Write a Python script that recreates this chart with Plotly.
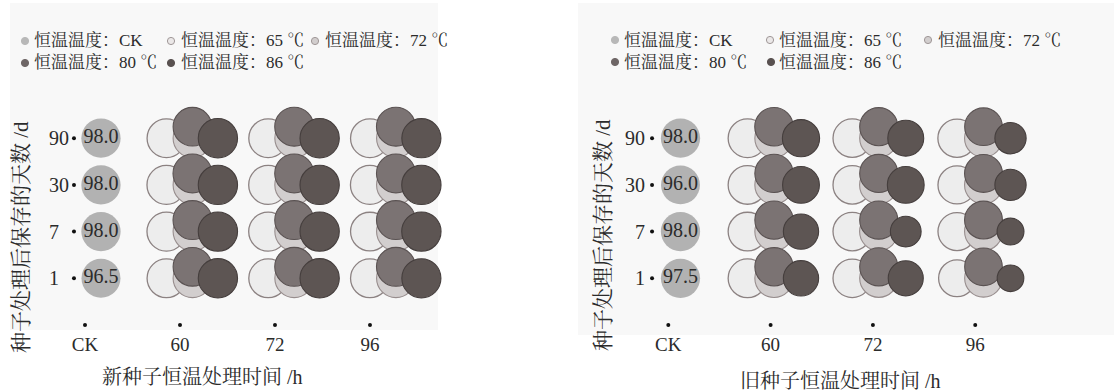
import plotly.graph_objects as go

W, H = 1114, 392
FONT = "Liberation Serif, Noto Serif CJK SC, Noto Sans CJK SC, serif"

# ---------------- data ----------------
x_categories = ["CK", "60", "72", "96"]          # heat-treatment time /h
day_labels = ["1", "7", "30", "90"]              # storage days (bottom -> top)
series_names = ["恒温温度：CK", "恒温温度：65 ℃", "恒温温度：72 ℃",
                "恒温温度：80 ℃", "恒温温度：86 ℃"]

# new seeds: values per day (1, 7, 30, 90); treatment series per column 60/72/96
new_ck = [96.5, 98.0, 98.0, 98.0]
new_t65 = [[95, 96, 96, 95], [95, 96, 96, 95], [95, 95, 96, 95]]
new_t72 = [[95, 95, 95, 95], [95, 95, 95, 95], [95, 95, 95, 95]]
new_t80 = [[95, 96, 96, 95], [96, 96, 96, 96], [96, 96, 96, 96]]
new_t86 = [[98, 98, 98, 98], [98, 98, 98, 98], [97, 98, 98, 97]]

# old seeds
old_ck = [97.5, 98.0, 96.0, 98.0]
old_t65 = [[95, 95, 95, 95], [94, 94, 94, 94], [86, 92, 92, 93]]
old_t72 = [[93, 93, 93, 93], [92, 93, 93, 92], [90, 91, 91, 91]]
old_t80 = [[93, 93, 93, 94], [92, 92, 92, 92], [90, 91, 91, 90]]
old_t86 = [[79, 79, 86, 88], [78, 60, 86, 82], [45, 46, 62, 62]]

x_titles = ["新种子恒温处理时间 /h", "旧种子恒温处理时间 /h"]
y_title = "种子处理后保存的天数 /d"

# ---------------- styles ----------------
SIZEREF = 2 * 98 / (39.3 ** 2)
styles = {
    "CK": dict(color="#b2b2b2", line=dict(color="#b2b2b2", width=0)),
    "65": dict(color="#ededed", line=dict(color="#8c8282", width=1.3)),
    "72": dict(color="#d2cece", line=dict(color="#978d8d", width=1.1)),
    "80": dict(color="#7b7373", line=dict(color="#5a5252", width=1.1)),
    "86": dict(color="#5d5553", line=dict(color="#453e3d", width=1.1)),
}
legend_fill = ["#b8b8b8", "#ebe8e8", "#d2cece", "#6e6666", "#595150"]
legend_line = ["#b8b8b8", "#9f9797", "#9f9797", "#6e6666", "#595150"]

panels = [
    dict(ck=new_ck, t=[new_t65, new_t72, new_t80, new_t86], xa="x", ya="y",
         xdom=(70, 438), xrange=(-0.158, 3.716), ck_x=0.168, g0=0.06, gstep=1.071,
         off=(-0.274, 0.0, 0.0, 0.268), ydot_x=-0.116,
         yticks=["1\u00a0\u00a0", "7\u00a0\u00a0", "30", "90"],
         rect=(10, 438, 3, 330), leg_x=[(25, 32), (171, 179), (315, 323), (25, 32), (171, 179)],
         leg_y=[41, 41, 41, 63, 63], xt=(202, 377), yt=(21, 237)),
    dict(ck=old_ck, t=[old_t65, old_t72, old_t80, old_t86], xa="x2", ya="y2",
         xdom=(646, 1112), xrange=(-0.218, 4.337), ck_x=0.119, g0=0.009, gstep=1.024,
         off=(-0.259, 0.0, 0.0, 0.264), ydot_x=-0.159,
         yticks=day_labels,
         rect=(578, 1114, 3, 335), leg_x=[(615, 622), (770, 777), (928, 936), (615, 622), (771, 777)],
         leg_y=[40, 40, 40, 62, 62], xt=(840, 381), yt=(603, 235)),
]
Y_OFF = [0.0, 0.0, 0.246, 0.0]   # vertical offset of each treatment series
YDOM = (80, 331)
Y_PX0, Y_STEP = 325, 46.7
yrange = ((Y_PX0 - YDOM[1]) / Y_STEP, (Y_PX0 - YDOM[0]) / Y_STEP)

fig = go.Figure()
shapes, annotations = [], []
rows = list(range(1, len(day_labels) + 1))

for p in panels:
    # light background panel
    x0, x1, y0, y1 = p["rect"]
    shapes.append(dict(type="rect", xref="paper", yref="paper", x0=x0 / W, x1=x1 / W,
                       y0=1 - y1 / H, y1=1 - y0 / H, fillcolor="#f8f8f8",
                       line=dict(width=0), layer="below"))
    # treatment bubbles
    keys = ["65", "72", "80", "86"]
    for s, key in enumerate(keys):
        xs, ys, vs = [], [], []
        for c, col_vals in enumerate(p["t"][s]):
            gx = p["g0"] + p["gstep"] * (c + 1)
            for r, v in enumerate(col_vals):
                xs.append(gx + p["off"][s])
                ys.append(rows[r] + Y_OFF[s])
                vs.append(v)
        st = styles[key]
        fig.add_trace(go.Scatter(
            x=xs, y=ys, mode="markers", xaxis=p["xa"], yaxis=p["ya"], showlegend=False,
            name=series_names[s + 1], cliponaxis=False,
            marker=dict(size=vs, sizemode="area", sizeref=SIZEREF, color=st["color"],
                        line=st["line"], opacity=1)))
    # CK bubbles with labels
    st = styles["CK"]
    fig.add_trace(go.Scatter(
        x=[p["ck_x"]] * len(rows), y=rows, mode="markers+text", xaxis=p["xa"], yaxis=p["ya"],
        showlegend=False, name=series_names[0], cliponaxis=False,
        text=[f"{v:.1f}" for v in p["ck"]], textposition="middle center",
        textfont=dict(family=FONT, size=20, color="#2b2b2b"),
        marker=dict(size=p["ck"], sizemode="area", sizeref=SIZEREF, color=st["color"],
                    line=st["line"], opacity=1)))
    # axis tick dots
    fig.add_trace(go.Scatter(
        x=list(range(len(x_categories))), y=[0] * len(x_categories), mode="markers",
        xaxis=p["xa"], yaxis=p["ya"], showlegend=False, hoverinfo="skip", cliponaxis=False,
        marker=dict(size=4, color="#111111")))
    fig.add_trace(go.Scatter(
        x=[p["ydot_x"]] * len(rows), y=rows, mode="markers",
        xaxis=p["xa"], yaxis=p["ya"], showlegend=False, hoverinfo="skip", cliponaxis=False,
        marker=dict(size=4, color="#111111")))
    # legend (markers as shapes, text as annotations)
    for i, name in enumerate(series_names):
        mx, tx = p["leg_x"][i]
        my = p["leg_y"][i]
        rr = 3.6
        shapes.append(dict(type="circle", xref="paper", yref="paper",
                           x0=(mx - rr) / W, x1=(mx + rr) / W,
                           y0=1 - (my + rr) / H, y1=1 - (my - rr) / H,
                           fillcolor=legend_fill[i], line=dict(color=legend_line[i], width=1)))
        annotations.append(dict(text=name, x=tx / W, y=1 - my / H, xref="paper", yref="paper",
                                xanchor="left", yanchor="middle", showarrow=False,
                                font=dict(family=FONT, size=17, color="#2b2b2b")))
    # axis titles
    annotations.append(dict(text=x_titles[panels.index(p)], x=p["xt"][0] / W, y=1 - p["xt"][1] / H,
                            xref="paper", yref="paper", xanchor="center", yanchor="middle",
                            showarrow=False, font=dict(family=FONT, size=20, color="#2b2b2b")))
    annotations.append(dict(text=y_title, x=p["yt"][0] / W, y=1 - p["yt"][1] / H,
                            xref="paper", yref="paper", xanchor="center", yanchor="middle",
                            textangle=-90, showarrow=False,
                            font=dict(family=FONT, size=21, color="#2b2b2b")))

axis_common = dict(showgrid=False, zeroline=False, showline=False, ticks="", fixedrange=True)
for k, p in enumerate(panels):
    sfx = "" if k == 0 else "2"
    fig.layout["xaxis" + sfx] = dict(
        axis_common, domain=[p["xdom"][0] / W, p["xdom"][1] / W], range=list(p["xrange"]),
        tickvals=list(range(len(x_categories))), ticktext=x_categories,
        tickfont=dict(family=FONT, size=19, color="#2b2b2b"), anchor="y" + sfx)
    fig.layout["yaxis" + sfx] = dict(
        axis_common, domain=[1 - YDOM[1] / H, 1 - YDOM[0] / H], range=list(yrange),
        tickvals=rows, ticktext=p["yticks"],
        tickfont=dict(family=FONT, size=20, color="#2b2b2b"), anchor="x" + sfx)

fig.update_layout(width=W, height=H, margin=dict(l=0, r=0, t=0, b=0),
                  paper_bgcolor="white", plot_bgcolor="rgba(0,0,0,0)",
                  shapes=shapes, annotations=annotations, showlegend=False)

fig.write_html("out.html", config={"displayModeBar": False},
               post_script="document.body.style.margin='0';document.body.style.overflow='hidden';")
